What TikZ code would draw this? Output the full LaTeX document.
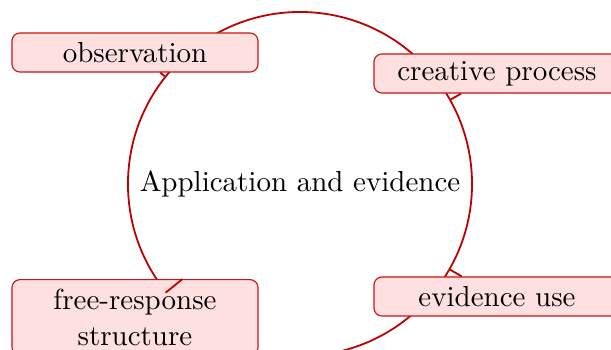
\documentclass[tikz,border=0pt]{standalone}
\usetikzlibrary{backgrounds}
\definecolor{ringred}{RGB}{190,0,0}
\definecolor{boxred}{RGB}{200,20,20}
\definecolor{boxfill}{RGB}{255,224,225}
\begin{document}
\begin{tikzpicture}[x=0.345pt,y=-0.345pt,
  hub/.style={circle,draw=ringred,line width=0.62pt,minimum size=118.7pt,inner sep=0pt},
  leaf/.style={draw=boxred,fill=boxfill,rounded corners=2.8pt,line width=0.4pt,
    minimum width=84.9pt,minimum height=13.5pt,inner sep=1pt,align=center,
    font=\fontsize{10}{12.4}\selectfont},
  link/.style={draw=ringred,line width=0.62pt}]
\useasboundingbox (0,0) rectangle (611,350);
\node[leaf] (obs) at (135,52.5) {observation};
\node[leaf] (cre) at (497,73.5) {creative process};
\node[leaf] (evi) at (497,296.5) {evidence use};
\node[leaf,minimum height=25.9pt,inner ysep=3.3pt] (fre) at (135,317.5) {free-response\\structure};
\begin{scope}[on background layer]
\node[hub] (app) at (300,184) {Application and evidence};
\end{scope}
\draw[link] (app) -- (obs);
\draw[link] (app) -- (cre);
\draw[link] (app) -- (evi);
\draw[link] (app) -- (fre);
\end{tikzpicture}
\end{document}
